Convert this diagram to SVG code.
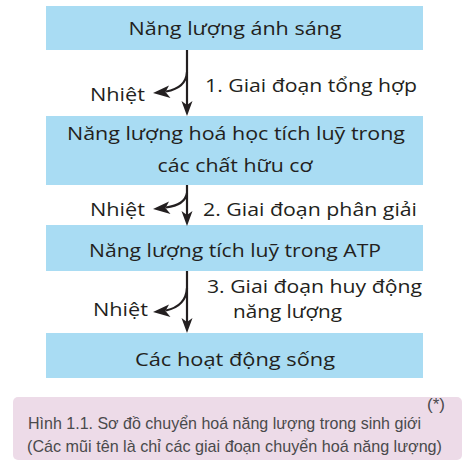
<svg xmlns="http://www.w3.org/2000/svg" width="468" height="465" viewBox="0 0 468 465">
<defs>
<style>
.box{fill:#a9dcf3;}
.t{font-family:"Open Sans","Liberation Sans",sans-serif;font-size:19px;fill:#231f20;}
.c{font-family:"Liberation Sans","Noto Sans",sans-serif;font-size:17px;fill:#4a4a4c;}
.ln{stroke:#231f20;stroke-width:2.2;fill:none;}
.hd{fill:#231f20;stroke:none;}
</style>
</defs>
<rect width="468" height="465" fill="#ffffff"/>
<g id="node1">
<rect class="box" x="46" y="6" width="377" height="44"/>
<text class="t" x="235" y="35" text-anchor="middle" textLength="213" lengthAdjust="spacingAndGlyphs">Năng lượng ánh sáng</text>
</g>
<g id="node2">
<rect class="box" x="46" y="116" width="377" height="69"/>
<text class="t" x="236" y="140" text-anchor="middle" textLength="338" lengthAdjust="spacingAndGlyphs">Năng lượng hoá học tích luỹ trong</text>
<text class="t" x="235" y="172" text-anchor="middle" textLength="155" lengthAdjust="spacingAndGlyphs">các chất hữu cơ</text>
</g>
<g id="node3">
<rect class="box" x="46" y="225" width="377" height="46"/>
<text class="t" x="235" y="257" text-anchor="middle" textLength="292" lengthAdjust="spacingAndGlyphs">Năng lượng tích luỹ trong ATP</text>
</g>
<g id="node4">
<rect class="box" x="46" y="333" width="377" height="45"/>
<text class="t" x="235" y="366" text-anchor="middle" textLength="200" lengthAdjust="spacingAndGlyphs">Các hoạt động sống</text>
</g>
<g id="connectors">
<line class="ln" x1="187" y1="50" x2="187" y2="106"/>
<path class="hd" d="M187,116 L181.5,101 L187,105 L192.5,101 Z"/>
<path class="ln" d="M187,72 Q186,88 166,91.5"/>
<path class="hd" d="M153,93 L169,85.5 L165.5,92 L170.5,98 Z"/>
<line class="ln" x1="187" y1="185" x2="187" y2="216"/>
<path class="hd" d="M187,226 L181.5,211 L187,215 L192.5,211 Z"/>
<path class="ln" d="M187,193 Q185,205 166,207.5"/>
<path class="hd" d="M153,209 L169,201.5 L165.5,208 L170.5,214 Z"/>
<line class="ln" x1="187" y1="271" x2="187" y2="323"/>
<path class="hd" d="M187,333 L181.5,318 L187,322 L192.5,318 Z"/>
<path class="ln" d="M187,288 Q186,306 166,310.5"/>
<path class="hd" d="M153,312 L169,304.5 L165.5,311 L170.5,317 Z"/>
</g>
<g id="labels">
<text class="t" x="90" y="101" textLength="55" lengthAdjust="spacingAndGlyphs">Nhiệt</text>
<text class="t" x="205" y="92" textLength="212" lengthAdjust="spacingAndGlyphs">1. Giai đoạn tổng hợp</text>
<text class="t" x="90" y="216" textLength="55" lengthAdjust="spacingAndGlyphs">Nhiệt</text>
<text class="t" x="203" y="216" textLength="214" lengthAdjust="spacingAndGlyphs">2. Giai đoạn phân giải</text>
<text class="t" x="93" y="316" textLength="55" lengthAdjust="spacingAndGlyphs">Nhiệt</text>
<text class="t" x="207" y="293" textLength="215" lengthAdjust="spacingAndGlyphs">3. Giai đoạn huy động</text>
<text class="t" x="233" y="318" textLength="109" lengthAdjust="spacingAndGlyphs">năng lượng</text>
</g>
<g id="caption">
<rect x="13" y="397" width="449" height="63" rx="5" fill="#eddbe8"/>
<text class="c" x="28" y="429" textLength="393" lengthAdjust="spacingAndGlyphs">Hình 1.1. Sơ đồ chuyển hoá năng lượng trong sinh giới</text>
<text class="c" x="427" y="410" font-size="8">(*)</text>
<text class="c" x="27" y="452" textLength="415" lengthAdjust="spacingAndGlyphs">(Các mũi tên là chỉ các giai đoạn chuyển hoá năng lượng)</text>
</g>
</svg>
